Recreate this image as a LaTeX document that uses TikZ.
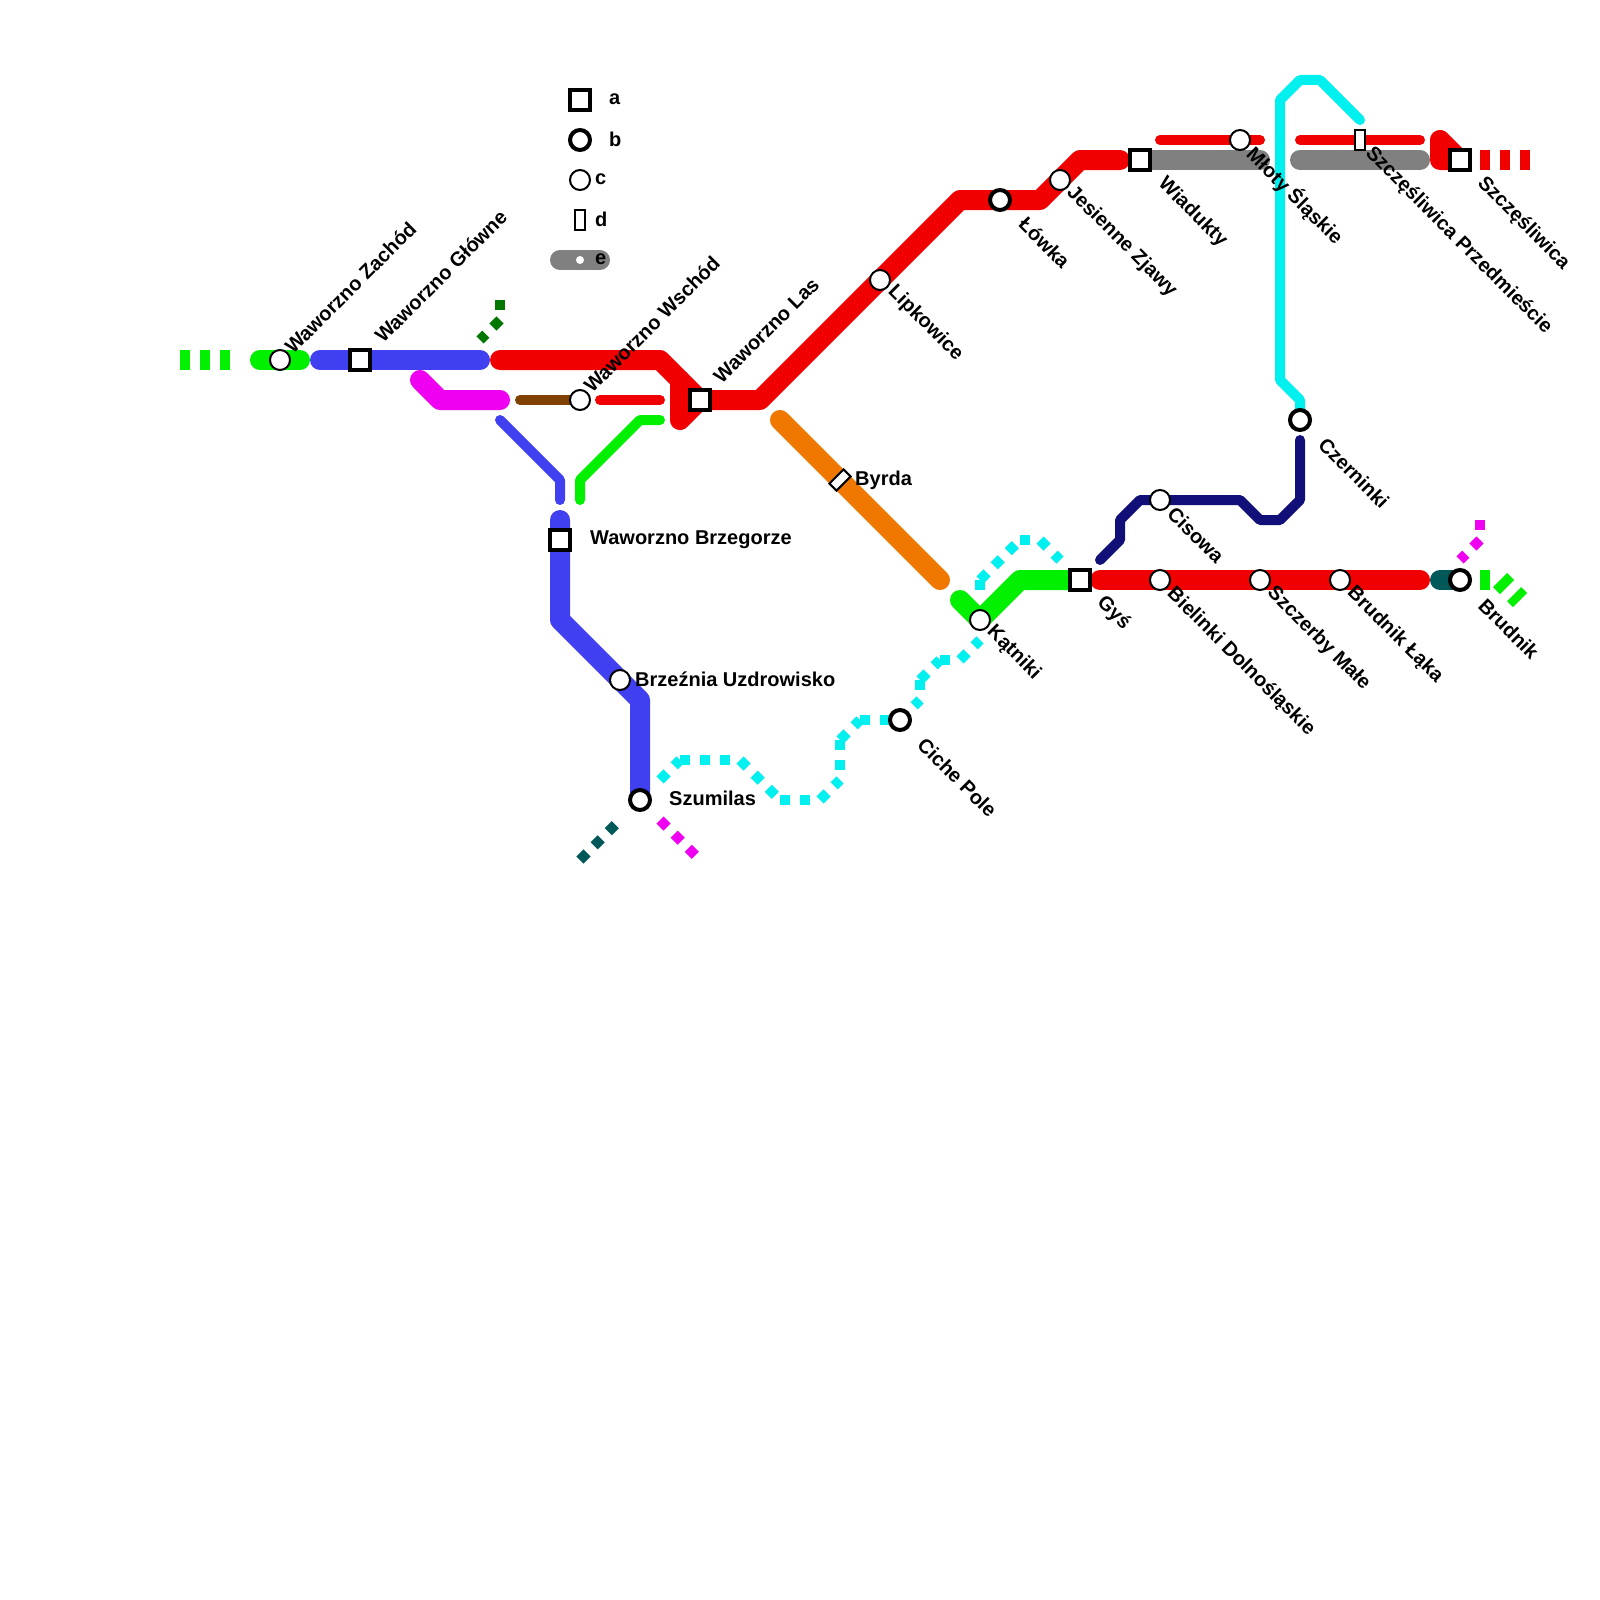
\documentclass[tikz,border=0pt]{standalone}
\usepackage{fontspec}
\setmainfont{Liberation Sans}
\definecolor{cRed}{HTML}{F00000}
\definecolor{cBlue}{HTML}{4040F0}
\definecolor{cGreen}{HTML}{00F000}
\definecolor{cMag}{HTML}{F000F0}
\definecolor{cCyan}{HTML}{00F0F0}
\definecolor{cOrange}{HTML}{F07800}
\definecolor{cBrown}{HTML}{804000}
\definecolor{cNavy}{HTML}{101078}
\definecolor{cTeal}{HTML}{005858}
\definecolor{cDark}{HTML}{007800}
\definecolor{cGrey}{HTML}{808080}
\tikzset{
  thick line/.style={line width=20pt,line cap=round,line join=round},
  thin line/.style={line width=10pt,line cap=round,line join=round},
  dash thick/.style={line width=20pt,line cap=butt,dash pattern=on 10pt off 10pt},
  dash thin/.style={line width=10pt,line cap=butt,dash pattern=on 10pt off 10pt},
  interchange/.style={draw=black,fill=white,rectangle,line width=4pt,minimum size=20pt,inner sep=0pt},
  terminal/.style={draw=black,fill=white,circle,line width=4pt,minimum size=20pt,inner sep=0pt},
  halt/.style={draw=black,fill=white,circle,line width=2pt,minimum size=20pt,inner sep=0pt},
  request/.style={draw=black,fill=white,rectangle,line width=2pt,minimum width=10pt,minimum height=20pt,inner sep=0pt},
  lbl/.style={font=\bfseries\fontsize{20}{22}\selectfont,inner sep=0pt,anchor=west,text=black},
  up lbl/.style={lbl,rotate=45},
  down lbl/.style={lbl,rotate=-45}
}
\begin{document}
\begin{tikzpicture}[x=1pt,y=-1pt]
\useasboundingbox (0,0) rectangle (1600,1600);
\fill[white] (0,0) rectangle (1600,1600);
% stations
\coordinate (zachod) at (280,360);
\coordinate (glowne) at (360,360);
\coordinate (wschod) at (580,400);
\coordinate (las) at (700,400);
\coordinate (lipk) at (880,280);
\coordinate (lowka) at (1000,200);
\coordinate (jesien) at (1060,180);
\coordinate (wiad) at (1140,160);
\coordinate (mloty) at (1240,140);
\coordinate (przed) at (1360,140);
\coordinate (szcz) at (1460,160);
\coordinate (czern) at (1300,420);
\coordinate (cis) at (1160,500);
\coordinate (gys) at (1080,580);
\coordinate (biel) at (1160,580);
\coordinate (szczer) at (1260,580);
\coordinate (laka) at (1340,580);
\coordinate (brud) at (1460,580);
\coordinate (katn) at (980,620);
\coordinate (byrda) at (840,480);
\coordinate (brzeg) at (560,540);
\coordinate (brzez) at (620,680);
\coordinate (szum) at (640,800);
\coordinate (ciche) at (900,720);
% dashed stubs
\draw[dash thick,cGreen] (180,360) coordinate (a1) -- (240,360) coordinate (a2);
\draw[dash thick,cRed] (1480,160) coordinate (a3) -- (1540,160) coordinate (a4);
\draw[dash thick,cGreen] (1480,580) coordinate (a5) -- (1500,580) coordinate (a6);
\draw[dash thick,cGreen] (a6) -- (1520,600) coordinate (a7);
\coordinate (d1) at (500,300); \coordinate (d2) at (500,320); \coordinate (d3) at (480,340);
\draw[dash thin,cDark] (d1) -- (d2);
\draw[dash thin,cDark] (d2) -- (d3);
\coordinate (t1) at (580,860); \coordinate (t2) at (620,820);
\draw[dash thin,cTeal] (t1) -- (t2);
\coordinate (m1) at (660,820); \coordinate (m2) at (700,860);
\draw[dash thin,cMag] (m1) -- (m2);
\coordinate (m3) at (1480,520); \coordinate (m4) at (1480,540); \coordinate (m5) at (1460,560);
\draw[dash thin,cMag] (m3) -- (m4);
\draw[dash thin,cMag] (m4) -- (m5);
% dotted cyan line
\coordinate (c1) at (660,780); \coordinate (c2) at (680,760); \coordinate (c3) at (740,760);
\coordinate (c4) at (780,800); \coordinate (c5) at (820,800); \coordinate (c6) at (840,780);
\coordinate (c7) at (840,740); \coordinate (c8) at (860,720);
\coordinate (c9) at (920,700); \coordinate (c10) at (920,680); \coordinate (c11) at (940,660);
\coordinate (c12) at (960,660); \coordinate (c13) at (980,640);
\coordinate (c14) at (980,590); \coordinate (c15) at (980,580); \coordinate (c16) at (1020,540);
\coordinate (c17) at (1040,540); \coordinate (c18) at (1060,560);
\foreach \p/\q in {c1/c2,c2/c3,c3/c4,c4/c5,c5/c6,c7/c6,c7/c8,c8/ciche,ciche/c9,c10/c9,c10/c11,c11/c12,c12/c13,c15/c14,c15/c16,c16/c17,c17/c18}
  \draw[dash thin,cCyan] (\p) -- (\q);
% thick lines
\draw[thick line,cGreen] (260,360) coordinate (g1) -- (300,360) coordinate (g2);
\draw[thick line,cBlue] (320,360) coordinate (b1) -- (480,360) coordinate (b2);
\draw[thick line,cRed] (500,360) coordinate (r1) -- (660,360) -- (las) -- (760,400) -- (960,200) -- (1040,200) -- (1080,160) -- (1120,160) coordinate (r2);
\draw[thick line,cRed] (680,380) -- (680,420) coordinate (r3) -- (las);
\draw[thick line,cMag] (420,380) coordinate (n1) -- (440,400) -- (500,400) coordinate (n2);
\draw[thick line,cBlue] (560,520) coordinate (b3) -- (560,620) -- (640,700) -- (szum);
\draw[thick line,cOrange] (780,420) coordinate (o1) -- (940,580) coordinate (o2);
\draw[thick line,cGreen] (960,600) coordinate (g3) -- (katn) -- (1020,580) -- (gys);
\draw[thick line,cRed] (1100,580) coordinate (r4) -- (1420,580) coordinate (r5);
\draw[thick line,cTeal] (1440,580) coordinate (t3) -- (brud);
\draw[thick line,cGrey] (wiad) -- (1260,160) coordinate (e1);
\draw[thick line,cGrey] (1300,160) coordinate (e2) -- (1420,160) coordinate (e3);
\draw[thick line,cRed] (szcz) -- (1440,140) coordinate (r6) -- (1440,160) -- (szcz);
% thin lines
\draw[thin line,cBrown] (520,400) coordinate (w1) -- (wschod);
\draw[thin line,cRed] (600,400) coordinate (r7) -- (660,400) coordinate (r8);
\draw[thin line,cBlue] (500,420) coordinate (b4) -- (560,480) -- (560,500) coordinate (b5);
\draw[thin line,cGreen] (580,500) coordinate (g4) -- (580,480) -- (640,420) -- (660,420) coordinate (g5);
\draw[thin line,cRed] (1160,140) coordinate (r9) -- (1260,140) coordinate (r10);
\draw[thin line,cRed] (1300,140) coordinate (r11) -- (1420,140) coordinate (r12);
\draw[thin line,cCyan] (czern) -- (1300,400) -- (1280,380) -- (1280,100) -- (1300,80) -- (1320,80) -- (1360,120) coordinate (c19);
\draw[thin line,cNavy] (1100,560) coordinate (v1) -- (1120,540) -- (1120,520) -- (1140,500) -- (1240,500) -- (1260,520) -- (1280,520) -- (1300,500) -- (1300,440) coordinate (v2);
% legend pill
\coordinate (e4) at (560,260); \coordinate (e5) at (600,260);
\draw[thick line,cGrey] (e4) -- (e5);
\node[circle,fill=white,minimum size=8pt,inner sep=0pt] (legE) at (580,260) {};
% station markers
\node[halt] (nZachod) at (zachod) {};
\node[interchange] (nGlowne) at (glowne) {};
\node[halt] (nWschod) at (wschod) {};
\node[interchange] (nLas) at (las) {};
\node[halt] (nLipk) at (lipk) {};
\node[terminal] (nLowka) at (lowka) {};
\node[halt] (nJesien) at (jesien) {};
\node[interchange] (nWiad) at (wiad) {};
\node[halt] (nMloty) at (mloty) {};
\node[request] (nPrzed) at (przed) {};
\node[interchange] (nSzcz) at (szcz) {};
\node[terminal] (nCzern) at (czern) {};
\node[halt] (nCis) at (cis) {};
\node[interchange] (nGys) at (gys) {};
\node[halt] (nBiel) at (biel) {};
\node[halt] (nSzczer) at (szczer) {};
\node[halt] (nLaka) at (laka) {};
\node[terminal] (nBrud) at (brud) {};
\node[halt] (nKatn) at (katn) {};
\node[request,rotate=-45] (nByrda) at (byrda) {};
\node[interchange] (nBrzeg) at (brzeg) {};
\node[halt] (nBrzez) at (brzez) {};
\node[terminal] (nSzum) at (szum) {};
\node[terminal] (nCiche) at (ciche) {};
% legend markers
\node[interchange] (legA) at (580,100) {};
\node[terminal] (legB) at (580,140) {};
\node[halt] (legC) at (580,180) {};
\node[request] (legD) at (580,220) {};
\node[lbl] (ta) at (609,99) {a};
\node[lbl] (tb) at (609,139) {b};
\node[lbl] (tc) at (595,179) {c};
\node[lbl] (td) at (595,219) {d};
\node[lbl] (te) at (595,259) {e};
% labels
\node[up lbl] (l1) at (288,350) {Waworzno Zachód};
\node[up lbl] (l2) at (378,339) {Waworzno Główne};
\node[up lbl] (l3) at (587,389) {Waworzno Wschód};
\node[up lbl] (l4) at (717,380) {Waworzno Las};
\node[down lbl] (l5) at (891,289) {Lipkowice};
\node[down lbl] (l6) at (1022.5,220.5) {Łówka};
\node[down lbl] (l7) at (1069.5,189.5) {Jesienne Zjawy};
\node[down lbl] (l8) at (1161,181) {Wiadukty};
\node[down lbl] (l9) at (1250,151) {Młoty Śląskie};
\node[down lbl] (l10) at (1368.5,150.5) {Szczęśliwica Przedmieście};
\node[down lbl] (l11) at (1480.5,180.5) {Szczęśliwica};
\node[down lbl] (l12) at (1322,441) {Czerninki};
\node[down lbl] (l13) at (1171,510) {Cisowa};
\node[down lbl] (l14) at (1100,600) {Gyś};
\node[down lbl] (l15) at (1170,591) {Bielinki Dolnośląskie};
\node[down lbl] (l16) at (1270,590) {Szczerby Małe};
\node[down lbl] (l17) at (1350,590) {Brudnik Łąka};
\node[down lbl] (l18) at (1482,602) {Brudnik};
\node[down lbl] (l19) at (990,629) {Kątniki};
\node[down lbl] (l20) at (921,741) {Ciche Pole};
\node[lbl] (l21) at (855,480) {Byrda};
\node[lbl] (l22) at (590,540) {Waworzno Brzegorze};
\node[lbl] (l23) at (635,679) {Brzeźnia Uzdrowisko};
\node[lbl] (l24) at (669,798) {Szumilas};
\end{tikzpicture}
\end{document}
